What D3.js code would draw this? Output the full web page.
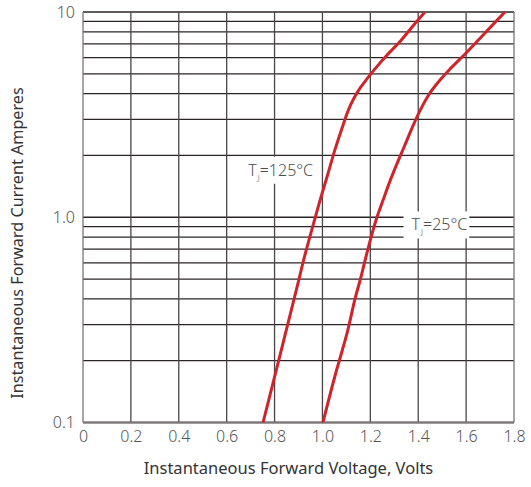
<!DOCTYPE html>
<html>
<head>
<meta charset="utf-8">
<script src="https://cdn.jsdelivr.net/npm/d3@7"></script>
<style>
  body { margin: 0; background: #fff; }
  text { font-family: "Noto Sans", "Noto Sans CJK SC", sans-serif; }
</style>
</head>
<body>
<div id="chart"></div>
<script>
var svgWidth = 531;
var svgHeight = 487;

var margin = { top: 12, right: 17, bottom: 64.5, left: 83 };
var width = svgWidth - margin.left - margin.right;
var height = svgHeight - margin.top - margin.bottom;

// tick labels
var xTicks = [0, 0.2, 0.4, 0.6, 0.8, 1.0, 1.2, 1.4, 1.6, 1.8];
var yTicks = [0.1, 1, 10];
var yGrid = [0.1, 0.2, 0.3, 0.4, 0.5, 0.6, 0.7, 0.8, 0.9, 1, 2, 3, 4, 5, 6, 7, 8, 9, 10];

// forward voltage (V) vs current (A)
var hotV = [0.752, 0.798, 0.844, 0.890, 0.927, 0.961, 0.990, 1.019, 1.052, 1.082, 1.107, 1.132, 1.157, 1.186, 1.215, 1.270, 1.324, 1.378, 1.428];
var hotI = [0.1, 0.163, 0.267, 0.438, 0.655, 0.916, 1.21, 1.57, 2.13, 2.72, 3.30, 3.81, 4.26, 4.72, 5.21, 6.18, 7.18, 8.55, 10];
var coldV = [1.002, 1.052, 1.103, 1.136, 1.161, 1.190, 1.224, 1.253, 1.282, 1.311, 1.341, 1.374, 1.407, 1.449, 1.491, 1.533, 1.604, 1.671, 1.762];
var coldI = [0.1, 0.168, 0.273, 0.400, 0.512, 0.700, 0.970, 1.21, 1.50, 1.82, 2.20, 2.72, 3.30, 4.03, 4.66, 5.28, 6.38, 7.73, 10];

var svg = d3.select("#chart")
  .append("svg")
  .attr("width", svgWidth)
  .attr("height", svgHeight);

var chartGroup = svg.append("g")
  .attr("transform", `translate(${margin.left}, ${margin.top})`);

var xScale = d3.scaleLinear().domain([0, 1.8]).range([0, width]);
var yScale = d3.scaleLog().domain([0.1, 10]).range([height, 0]);

// horizontal grid
chartGroup.selectAll(".hgrid")
  .data(yGrid)
  .enter()
  .append("line")
  .attr("x1", 0)
  .attr("x2", width)
  .attr("y1", d => yScale(d))
  .attr("y2", d => yScale(d))
  .attr("stroke", "#2b2526")
  .attr("stroke-width", 1.3);

// vertical grid
chartGroup.selectAll(".vgrid")
  .data(xTicks)
  .enter()
  .append("line")
  .attr("x1", d => xScale(d))
  .attr("x2", d => xScale(d))
  .attr("y1", 0)
  .attr("y2", height)
  .attr("stroke", d => (d == 0 || d == 1.8) ? "#7a7576" : "#4a4546")
  .attr("stroke-width", 1.3);

// bottom edge
chartGroup.append("line")
  .attr("x1", 0).attr("x2", width)
  .attr("y1", height).attr("y2", height)
  .attr("stroke", "#7a7576")
  .attr("stroke-width", 2);

// curve labels with white boxes that break the grid
function addLabel(v, i, temp) {
  var g = chartGroup.append("g");
  var t = g.append("text")
    .attr("x", xScale(v))
    .attr("y", yScale(i))
    .attr("dy", "0.36em")
    .attr("text-anchor", "end")
    .attr("fill", "#4d4d4d")
    .attr("font-size", "16px")
    .attr("font-weight", 300);
  t.append("tspan").attr("fill", "#4d4d4d").text("T");
  t.append("tspan").attr("fill", "#4d4d4d").attr("font-size", "8px").attr("dy", "4").attr("dx", "1").text("J");
  t.append("tspan").attr("fill", "#4d4d4d").attr("dy", "-4").text("=" + temp + "°C");
  var b = t.node().getBBox();
  g.insert("rect", "text")
    .attr("x", b.x - 8)
    .attr("y", b.y - 2)
    .attr("width", b.width + 10)
    .attr("height", b.height + 4)
    .attr("fill", "#fff");
}
addLabel(0.961, 1.70, 125);
addLabel(1.605, 0.92, 25);

// curves
var line = d3.line()
  .x(d => xScale(d[0]))
  .y(d => yScale(d[1]))
  .curve(d3.curveCatmullRom);

[[hotV, hotI], [coldV, coldI]].forEach(function(s) {
  chartGroup.append("path")
    .datum(d3.zip(s[0], s[1]))
    .attr("d", line)
    .attr("fill", "none")
    .attr("stroke", "#d0242b")
    .attr("stroke-width", 3);
});

// axes labels
var bottomAxis = d3.axisBottom(xScale)
  .tickValues(xTicks)
  .tickSize(0)
  .tickPadding(8)
  .tickFormat(d => d == 0 ? "0" : d3.format(".1f")(d));

var xAxis = chartGroup.append("g")
  .attr("transform", `translate(0, ${height})`)
  .call(bottomAxis);

var leftAxis = d3.axisLeft(yScale)
  .tickValues(yTicks)
  .tickSize(0)
  .tickPadding(8)
  .tickFormat(d => d == 10 ? "10" : d3.format(".1f")(d));

var yAxis = chartGroup.append("g").call(leftAxis);

[xAxis, yAxis].forEach(function(a) {
  a.select(".domain").remove();
  a.selectAll("text")
    .attr("fill", "#555")
    .attr("font-size", "16px")
    .attr("font-weight", 300)
    .style("font-family", "'Noto Sans', sans-serif");
});

// axis titles
svg.append("text")
  .attr("x", margin.left + width / 2 - 10)
  .attr("y", 474)
  .attr("text-anchor", "middle")
  .attr("fill", "#333")
  .attr("font-size", "16.5px")
  .text("Instantaneous Forward Voltage, Volts");

svg.append("text")
  .attr("transform", "rotate(-90)")
  .attr("x", 0 - 243)
  .attr("y", 23)
  .attr("text-anchor", "middle")
  .attr("fill", "#333")
  .attr("font-size", "16.2px")
  .text("Instantaneous Forward Current Amperes");
</script>
</body>
</html>
